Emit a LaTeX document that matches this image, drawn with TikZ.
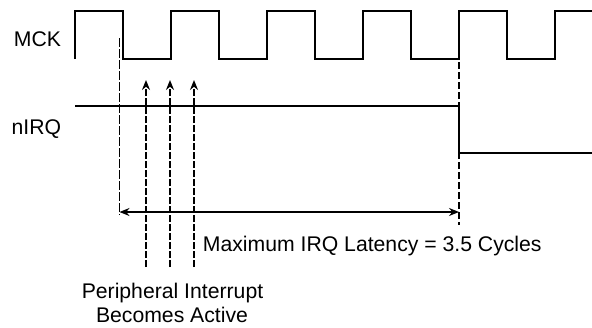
\documentclass[tikz,border=0pt]{standalone}
\usepackage{fontspec}
\setmainfont{Liberation Sans}
\usetikzlibrary{arrows.meta}

\begin{document}
\begin{tikzpicture}[x=1pt,y=-1pt,line width=1.8pt,font=\fontsize{21.2}{24}\selectfont,
		>={Stealth[length=10pt,width=8pt]}]
				\useasboundingbox(0,0)rectangle(592,327);
				\node[anchor=base east,inner sep=0](mck)at(62,46){MCK};
				\node[anchor=base east,inner sep=0](nirq)at(62,134){nIRQ};
				\draw(75,59)foreach\x in{75,171,267,363,459}{--(\x,11)--(\x+48,11)--(\x+48,59)--(\x+96,59)}--(555,11)--(592,11);
				\draw(75,106)--(459,106)--(459,153)--(592,153);
				\draw[line width=1.2pt,dash pattern=on 9pt off 2pt](119.5,38)--(119.5,215);
				\draw[line width=1.3pt,dash pattern=on 7pt off 3pt](459,62)--(459,225);
				\coordinate(from)at(119.5,212);
				\coordinate(to)at(459,212);
				\draw[line width=1.4pt,<->](from)--(to);
				\foreach\x in{146,170,194}{
					\coordinate(low\x)at(\x,267);
					\coordinate(high\x)at(\x,80);
					\draw[line width=1.3pt,dash pattern=on 7pt off 2pt,->](low\x)--(high\x);
				}
				\node[anchor=base west,inner sep=0](latency)at(202,251){Maximum IRQ Latency = 3.5 Cycles};
				\node[anchor=base,inner sep=0](periph)at(172.5,298){Peripheral Interrupt};
				\node[anchor=base,inner sep=0](active)at(172,322){Becomes Active};
			\end{tikzpicture}
\end{document}
